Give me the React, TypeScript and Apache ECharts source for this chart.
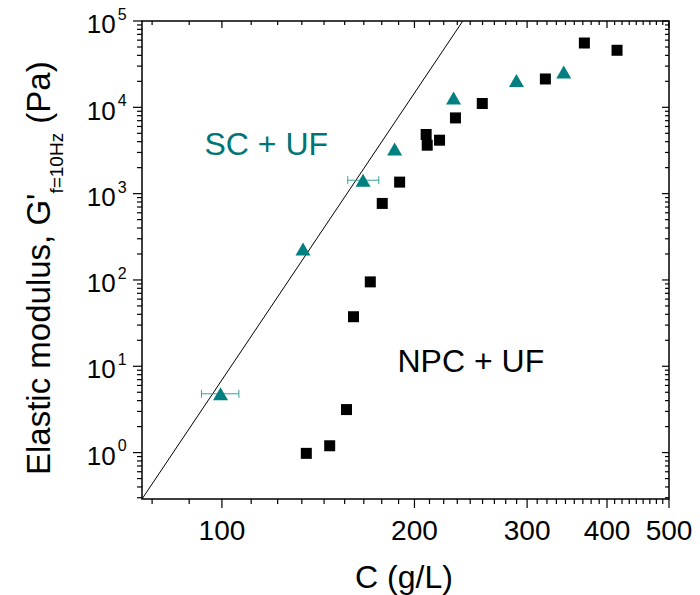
import React, { useEffect, useRef } from "react";
import * as echarts from "echarts";

// ---- data ----
const npcX = [135.5, 147.4, 156.6, 160.6, 170.6, 178.1, 189.6, 208.6, 209.4, 218.9, 231.8, 255.3, 320.4, 368.7, 414.7];
const npcY = [0.98, 1.2, 3.15, 37.5, 95, 770, 1360, 4840, 3640, 4160, 7540, 11070, 21300, 55600, 45800];
const scX = [99.5, 133.9, 166.2, 186.2, 230.2, 288.7, 342.3];
const scY = [4.8, 228, 1430, 3300, 12850, 20400, 25700];
const errX = [99.5, 166.2];
const errY = [4.8, 1430];
const errLow = [92.9, 157.3];
const errHigh = [106.3, 175.9];
const fitX = [75, 238];
const fitY = [0.29, 100000];
const xMajorTicks = [100, 200, 300, 400, 500];
const yMajorTicks = [1, 10, 100, 1000, 10000, 100000];
const yTickExponents = ["0", "1", "2", "3", "4", "5"];
const labelSC = "SC + UF";
const labelNPC = "NPC + UF";

const X_MIN = 75;
const X_MAX = 500;
const Y_MIN = 0.29;
const Y_MAX = 100000;
const FONT = '"Liberation Sans", Arial, sans-serif';
const TEAL = "#008080";

function buildXTicks() {
  const out: number[][] = [];
  const majors = [0, ...xMajorTicks];
  for (let i = 0; i < majors.length - 1; i++) {
    const a = majors[i];
    const b = majors[i + 1];
    const step = (b - a) / 9;
    for (let k = 1; k <= 8; k++) {
      const v = a + k * step;
      if (v >= X_MIN && v <= X_MAX) out.push([v, 1, 0]);
    }
  }
  xMajorTicks.forEach((v) => out.push([v, 1, 1]));
  return out;
}

function buildYTicks() {
  const out: number[][] = [];
  [0.1, 1, 10, 100, 1000, 10000].forEach((d) => {
    for (let k = 2; k <= 9; k++) {
      const v = k * d;
      if (v >= Y_MIN && v <= Y_MAX) out.push([100, v, 0]);
    }
  });
  yMajorTicks.forEach((v) => out.push([100, v, 1]));
  return out;
}

function measure(text: string, size: number) {
  const c = document.createElement("canvas");
  const ctx = c.getContext("2d");
  if (!ctx) return text.length * size * 0.55;
  ctx.font = `${size}px "Liberation Sans"`;
  return ctx.measureText(text).width;
}

export default function App() {
  const ref = useRef<HTMLDivElement>(null);

  useEffect(() => {
    document.body.style.margin = "0";
    if (!ref.current) return;
    const chart = echarts.init(ref.current, undefined, { renderer: "svg" });

    const mainSize = 33;
    const subSize = 19;
    const t1 = "Elastic modulus, G'";
    const t2 = "f=10Hz";
    const t3 = " (Pa)";
    const w1 = measure(t1, mainSize);
    const w2 = measure(t2, subSize);

    const tickColor = "#000";
    const tickW = 1.2;

    const option: any = {
      animation: false,
      backgroundColor: "#fff",
      grid: {
        left: 142,
        top: 21,
        width: 527,
        height: 478,
        show: true,
        borderColor: "#000",
        borderWidth: 1.5,
        backgroundColor: "transparent",
      },
      xAxis: {
        type: "log",
        logBase: 10,
        min: X_MIN,
        max: X_MAX,
        axisLine: { show: false },
        axisTick: { show: false },
        axisLabel: { show: false },
        splitLine: { show: false },
      },
      yAxis: {
        type: "log",
        logBase: 10,
        min: Y_MIN,
        max: Y_MAX,
        axisLine: { show: false },
        axisTick: { show: false },
        axisLabel: { show: false },
        splitLine: { show: false },
      },
      graphic: [
        {
          type: "text",
          x: 404,
          y: 577,
          style: {
            text: "C (g/L)",
            fontSize: 32,
            fontFamily: FONT,
            fill: "#000",
            align: "center",
            verticalAlign: "middle",
          },
        },
        {
          type: "group",
          x: 50,
          y: 475,
          rotation: Math.PI / 2,
          children: [
            {
              type: "text",
              x: 0,
              y: -0.3465 * mainSize,
              style: { text: t1, fontSize: mainSize, fontFamily: FONT, fill: "#000", align: "left", verticalAlign: "middle" },
            },
            {
              type: "text",
              x: w1,
              y: 13.3 - 0.3465 * subSize,
              style: { text: t2, fontSize: subSize, fontFamily: FONT, fill: "#000", align: "left", verticalAlign: "middle" },
            },
            {
              type: "text",
              x: w1 + w2,
              y: -0.3465 * mainSize,
              style: { text: t3, fontSize: mainSize, fontFamily: FONT, fill: "#000", align: "left", verticalAlign: "middle" },
            },
          ],
        },
        {
          type: "text",
          x: 204.5,
          y: 144,
          style: { text: labelSC, fontSize: 32, fontFamily: FONT, fill: "#007575", align: "left", verticalAlign: "middle" },
        },
        {
          type: "text",
          x: 397.5,
          y: 360.5,
          style: { text: labelNPC, fontSize: 32, fontFamily: FONT, fill: "#000", align: "left", verticalAlign: "middle" },
        },
      ],
      series: [
        {
          type: "line",
          data: fitX.map((x, i) => [x, fitY[i]]),
          symbol: "none",
          lineStyle: { color: "#000", width: 1 },
          silent: true,
          z: 2,
        },
        {
          type: "custom",
          coordinateSystem: "cartesian2d",
          silent: true,
          z: 3,
          data: errX.map((x, i) => [x, errY[i], errLow[i], errHigh[i]]),
          renderItem: (params: any, api: any) => {
            const y = api.value(1);
            const lo = api.coord([api.value(2), y]);
            const hi = api.coord([api.value(3), y]);
            const st = { stroke: "#3b9e9e", lineWidth: 1 };
            return {
              type: "group",
              children: [
                { type: "line", shape: { x1: lo[0], y1: lo[1], x2: hi[0], y2: hi[1] }, style: st },
                { type: "line", shape: { x1: lo[0], y1: lo[1] - 4, x2: lo[0], y2: lo[1] + 4 }, style: st },
                { type: "line", shape: { x1: hi[0], y1: hi[1] - 4, x2: hi[0], y2: hi[1] + 4 }, style: st },
              ],
            };
          },
        },
        {
          type: "scatter",
          name: labelNPC,
          data: npcX.map((x, i) => [x, npcY[i]]),
          symbol: "rect",
          symbolSize: 11,
          itemStyle: { color: "#000", opacity: 1 },
          z: 4,
        },
        {
          type: "scatter",
          name: labelSC,
          data: scX.map((x, i) => [x, scY[i]]),
          symbol: "triangle",
          symbolSize: [15, 13],
          itemStyle: { color: TEAL, opacity: 1 },
          z: 5,
        },
        {
          type: "custom",
          coordinateSystem: "cartesian2d",
          silent: true,
          clip: false,
          z: 6,
          data: buildXTicks(),
          renderItem: (params: any, api: any) => {
            const v = api.value(0);
            const major = api.value(2) === 1;
            const cs = params.coordSys;
            const x = api.coord([v, 1])[0];
            const bottom = cs.y + cs.height;
            const top = cs.y;
            const st = { stroke: tickColor, lineWidth: tickW };
            const children: any[] = [
              { type: "line", shape: { x1: x, y1: bottom, x2: x, y2: bottom + (major ? 9 : 5) }, style: st },
              { type: "line", shape: { x1: x, y1: top, x2: x, y2: top + (major ? 7 : 4) }, style: st },
            ];
            if (major) {
              children.push({
                type: "text",
                x: x,
                y: bottom + 31.5,
                style: {
                  text: String(Math.round(v)),
                  fontSize: 28,
                  fontFamily: FONT,
                  fill: "#000",
                  align: "center",
                  verticalAlign: "middle",
                },
              });
            }
            return { type: "group", children };
          },
        },
        {
          type: "custom",
          coordinateSystem: "cartesian2d",
          silent: true,
          clip: false,
          z: 6,
          data: buildYTicks(),
          renderItem: (params: any, api: any) => {
            const v = api.value(1);
            const major = api.value(2) === 1;
            const cs = params.coordSys;
            const y = api.coord([100, v])[1];
            const left = cs.x;
            const right = cs.x + cs.width;
            const st = { stroke: tickColor, lineWidth: tickW };
            const children: any[] = [
              { type: "line", shape: { x1: left, y1: y, x2: left - (major ? 9 : 5), y2: y }, style: st },
              { type: "line", shape: { x1: right, y1: y, x2: right - (major ? 7 : 4), y2: y }, style: st },
            ];
            if (major) {
              const idx = yMajorTicks.findIndex((m) => Math.abs(m - v) / m < 1e-6);
              children.push({
                type: "text",
                x: left - 26.3,
                y: y + 3.2,
                style: { text: "10", fontSize: 26, fontFamily: FONT, fill: "#000", align: "right", verticalAlign: "middle" },
              });
              children.push({
                type: "text",
                x: left - 24.3,
                y: y - 6.6,
                style: {
                  text: yTickExponents[idx] ?? "",
                  fontSize: 16,
                  fontFamily: FONT,
                  fill: "#000",
                  align: "left",
                  verticalAlign: "middle",
                },
              });
            }
            return { type: "group", children };
          },
        },
      ],
    };

    chart.setOption(option);
    return () => chart.dispose();
  }, []);

  return (
    <div
      ref={ref}
      style={{ position: "fixed", left: 0, top: 0, width: 700, height: 595, background: "#fff" }}
    />
  );
}
